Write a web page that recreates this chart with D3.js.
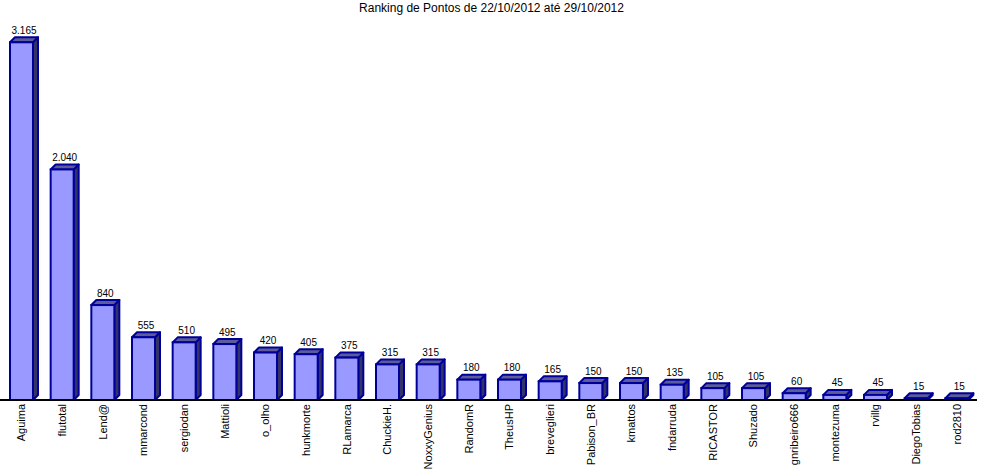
<!DOCTYPE html>
<html>
<head>
<meta charset="utf-8">
<script src="https://cdn.jsdelivr.net/npm/d3@7"></script>
<style>
  html, body { margin: 0; padding: 0; background: #fff; }
  svg { display: block; font-family: "Liberation Sans", Arial, sans-serif; }
</style>
</head>
<body>
<svg id="chart" width="984" height="473"></svg>
<script>
// Weekly points ranking
const titleText = "Ranking de Pontos de 22/10/2012 até 29/10/2012";
const players = ["Aguima", "flutotal", "Lend@", "mmarcond", "sergiodan", "Mattioli", "o_olho",
  "hunkmorte", "RLamarca", "ChuckieH.", "NoxxyGenius", "RandomR", "TheusHP", "breveglieri",
  "Pabison_BR", "kmattos", "fndarruda", "RICASTOR", "Shuzado", "gnribeiro666", "montezuma",
  "rvillg", "DiegoTobias", "rod2810"];
const points = [3165, 2040, 840, 555, 510, 495, 420, 405, 375, 315, 315, 180, 180, 165,
  150, 150, 135, 105, 105, 60, 45, 45, 15, 15];

const W = 984, H = 473;
const baseY = 400;
const depthX = 5, depthY = 5;
const inset = 10, faceW = 23;

const svg = d3.select("#chart");

const x = d3.scaleBand().domain(players).range([0, 976]).padding(0);
const y = d3.scaleLinear().domain([0, 3165]).range([baseY, 42.3]);

const ptBR = d3.formatLocale({ decimal: ",", thousands: ".", grouping: [3], currency: ["R$", ""] });
const fmt = ptBR.format(",d");

const data = players.map((p, i) => ({ name: p, value: points[i] }));

// Title
svg.append("text")
  .attr("x", 491.5).attr("y", 12)
  .attr("text-anchor", "middle")
  .attr("font-size", 12)
  .attr("fill", "#000")
  .text(titleText);

const bars = svg.append("g").selectAll("g.bar").data(data).join("g").attr("class", "bar");

const stroke = "#000099";
const sw = 2;

// side face
bars.append("path")
  .attr("d", d => {
    const x0 = x(d.name) + inset + faceW, yt = y(d.value);
    return `M${x0},${yt} L${x0 + depthX},${yt - depthY} L${x0 + depthX},${baseY - depthY} L${x0},${baseY} Z`;
  })
  .attr("fill", "#333366").attr("stroke", stroke).attr("stroke-width", sw).attr("stroke-linejoin", "round");

// top face
bars.append("path")
  .attr("d", d => {
    const x0 = x(d.name) + inset, yt = y(d.value);
    return `M${x0},${yt} L${x0 + depthX},${yt - depthY} L${x0 + faceW + depthX},${yt - depthY} L${x0 + faceW},${yt} Z`;
  })
  .attr("fill", "#5c5c99").attr("stroke", stroke).attr("stroke-width", sw).attr("stroke-linejoin", "round");

// front face
bars.append("rect")
  .attr("x", d => x(d.name) + inset)
  .attr("y", d => y(d.value))
  .attr("width", faceW)
  .attr("height", d => baseY - y(d.value))
  .attr("fill", "#9999ff").attr("stroke", stroke).attr("stroke-width", sw);

// value labels
bars.append("text")
  .attr("x", d => x(d.name) + inset + (faceW + depthX) / 2)
  .attr("y", d => y(d.value) - depthY - 3.5)
  .attr("text-anchor", "middle")
  .attr("font-size", 10)
  .attr("fill", "#000")
  .text(d => fmt(d.value));

// baseline
svg.append("line")
  .attr("x1", 0).attr("x2", 977)
  .attr("y1", baseY).attr("y2", baseY)
  .attr("stroke", "#000").attr("stroke-width", 2);

// category labels (vertical)
svg.append("g").selectAll("text").data(data).join("text")
  .attr("transform", d => `translate(${x(d.name) + inset + faceW / 2},${baseY + 4}) rotate(-90)`)
  .attr("text-anchor", "end")
  .attr("dy", "0.35em")
  .attr("font-size", 11)
  .attr("fill", "#000")
  .text(d => d.name);
</script>
</body>
</html>
